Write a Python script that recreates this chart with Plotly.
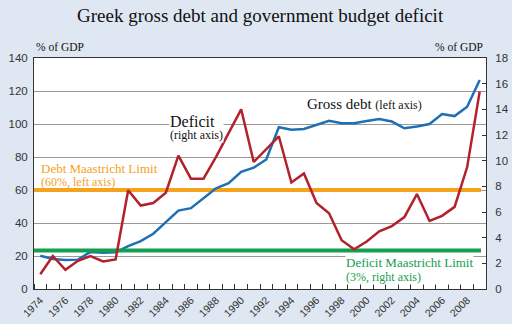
import plotly.graph_objects as go

years = list(range(1974, 2010))
gross_debt = [20.2, 18.2, 17.6, 17.8, 22.5, 22.0, 22.2, 26.0, 29.0, 33.5,
              40.5, 47.5, 49.0, 55.0, 61.0, 64.2, 71.0, 73.5, 78.5, 98.0,
              96.5, 97.0, 99.5, 102.0, 100.5, 100.5, 101.8, 103.0, 101.5, 97.4,
              98.5, 100.0, 106.0, 104.8, 110.5, 126.7]
deficit = [1.15, 2.57, 1.5, 2.2, 2.57, 2.15, 2.3, 7.7, 6.5, 6.7,
           7.5, 10.4, 8.6, 8.6, 10.3, 12.2, 14.0, 9.9, 10.9, 11.9,
           8.3, 9.0, 6.7, 5.9, 3.8, 3.1, 3.7, 4.5, 4.9, 5.6,
           7.4, 5.3, 5.7, 6.4, 9.5, 15.4]
debt_limit = 60
deficit_limit = 3
x_tick_labels = [str(y) for y in range(1974, 2009, 2)]
left_ticks = list(range(0, 141, 20))
right_ticks = list(range(0, 19, 2))

BLUE = "#1f6fb4"
RED = "#b3212a"
ORANGE = "#f5a21c"
GREEN = "#13a04e"
BG = "#dfe7f2"
SERIF = "Liberation Serif, Times New Roman, serif"
SANS = "Liberation Sans, Arial, sans-serif"

limit_x = [years[0] - 0.5, years[-1] + 0.1]

fig = go.Figure()
fig.add_trace(go.Scatter(x=limit_x, y=[debt_limit] * 2, mode="lines",
                         line=dict(color=ORANGE, width=4), hoverinfo="skip"))
fig.add_trace(go.Scatter(x=limit_x, y=[deficit_limit] * 2, mode="lines", yaxis="y2",
                         line=dict(color=GREEN, width=4), hoverinfo="skip"))
fig.add_trace(go.Scatter(x=years, y=gross_debt, mode="lines",
                         line=dict(color=BLUE, width=2.5)))
fig.add_trace(go.Scatter(x=years, y=deficit, mode="lines", yaxis="y2",
                         line=dict(color=RED, width=2.5)))

fig.update_layout(
    width=512, height=324,
    margin=dict(l=34, r=26, t=58, b=35, autoexpand=False),
    paper_bgcolor=BG, plot_bgcolor="white",
    showlegend=False,
    title=dict(text="Greek gross debt and government budget deficit",
               x=0.508, xanchor="center", y=0.953, yanchor="middle",
               font=dict(family=SERIF, size=19, color="#111")),
    xaxis=dict(range=[years[0] - 0.5, years[-1] + 0.5], automargin=False,
               tickmode="array", tickvals=[int(t) for t in x_tick_labels],
               ticktext=x_tick_labels, tickangle=-45, ticks="",
               tickfont=dict(family=SANS, size=10.5, color="#333"),
               showgrid=False, zeroline=False,
               showline=True, linecolor="#333", linewidth=1, mirror=True,
               minor=dict(ticks="inside", tick0=years[0] + 0.5, dtick=1,
                          ticklen=5, tickcolor="#333", showgrid=False)),
    yaxis=dict(range=[0, 140], tickmode="array", tickvals=left_ticks,
               automargin=False,
               showgrid=True, gridcolor="#9a9a9a", gridwidth=1,
               zeroline=False, ticks="", ticklabelstandoff=3,
               showline=True, linecolor="#333", linewidth=1,
               tickfont=dict(family=SANS, size=11.5, color="#333")),
    yaxis2=dict(range=[0, 18], tickmode="array", tickvals=right_ticks,
                automargin=False,
                overlaying="y", side="right", showgrid=False, zeroline=False,
                ticks="inside", ticklen=4, tickcolor="#333", ticklabelstandoff=6,
                showline=True, linecolor="#333", linewidth=1,
                tickfont=dict(family=SANS, size=11.5, color="#333")),
)

def note(x, y, text, size, color="#111", bg=None, xanchor="left", yanchor="middle"):
    fig.add_annotation(x=x, y=y, xref="paper", yref="paper", text=text,
                       showarrow=False, xanchor=xanchor, yanchor=yanchor,
                       align="left",
                       font=dict(family=SERIF, size=size, color=color),
                       bgcolor=bg, borderpad=0)

def px(xp):
    return (xp - 34) / 452

def py(yp):
    return (289 - yp) / 231

def two_lines(a, sa, b, sb):
    return (f"<span style='font-size:{sa}px'>{a}</span><br>"
            f"<span style='font-size:{sb}px'>{b}</span>")

note(px(35), py(47), "% of GDP", 11.5)
note(px(484), py(47), "% of GDP", 11.5, xanchor="right")
note(px(169), py(127), two_lines("Deficit", 16, "(right axis)", 12), 9.5, bg="white")
note(px(306), py(104),
     "Gross debt <span style='font-size:12px'>(left axis)</span>", 15)
note(px(40), py(175), two_lines("Debt Maastricht Limit", 13, "(60%, left axis)", 12),
     10, color=ORANGE)
note(px(345), py(269), two_lines("Deficit Maastricht Limit", 13, "(3%, right axis)", 12),
     10.5, color=GREEN, bg="white")

fig.write_html("out.html")
